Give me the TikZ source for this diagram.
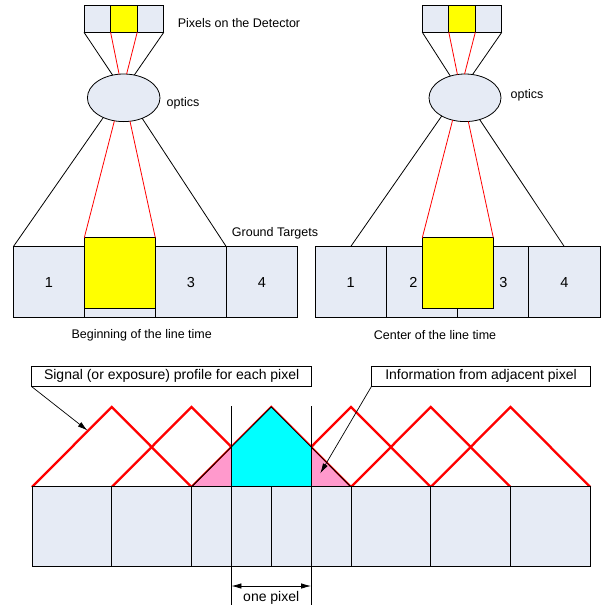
\documentclass[tikz,border=0pt]{standalone}
\usepackage{fontspec}
\setmainfont{Liberation Sans}
\usetikzlibrary{arrows.meta,shapes.geometric}
\definecolor{boxfill}{RGB}{230,235,245}
\definecolor{pinkf}{RGB}{255,153,204}
\definecolor{cyanf}{RGB}{0,255,255}
\definecolor{yelf}{RGB}{255,255,0}
\definecolor{redl}{RGB}{255,0,0}
\tikzset{
  base/.style={inner sep=0pt, outer sep=0pt},
  detcell/.style={base, draw=black, line width=0.8pt, fill=boxfill, anchor=north west, minimum width=26.6pt, minimum height=26.6pt},
  lens/.style={base, ellipse, draw=black, line width=0.8pt, fill=boxfill},
  gbox/.style={base, draw=black, line width=0.8pt, fill=boxfill, anchor=north west, minimum height=71pt, font=\fontsize{14.5}{16}\selectfont},
  ybox/.style={base, draw=black, line width=0.8pt, fill=yelf, anchor=north west, minimum width=71pt, minimum height=71pt},
  pbox/.style={base, draw=black, line width=0.8pt, fill=boxfill, anchor=north west, minimum height=79.3pt},
  lbl/.style={base, font=\fontsize{12.5}{15}\selectfont},
  numlbl/.style={base, font=\fontsize{14.5}{16}\selectfont},
  blbl/.style={base, font=\fontsize{14}{16}\selectfont},
  callout/.style={base, draw=black, line width=0.8pt, fill=white, font=\fontsize{14}{16}\selectfont, minimum height=20.7pt},
  thinl/.style={black, line width=0.8pt},
  redthin/.style={redl, line width=0.8pt},
  redthick/.style={redl, line width=2.3pt},
  pointer/.style={black, line width=0.7pt, -{Latex[length=10pt,width=5.5pt]}},
  dimarrow/.style={black, line width=0.8pt, {Latex[length=10pt,width=5.5pt]}-{Latex[length=10pt,width=5.5pt]}}
}
\begin{document}
\begin{tikzpicture}[x=1pt,y=-1pt]
\useasboundingbox (0,0) rectangle (601,605);

% ---------- left panel ----------
\node[detcell] (dl1) at (84,5.7) {};
\node[detcell, fill=yelf] (dl2) at (110.6,5.7) {};
\node[detcell] (dl3) at (137.2,5.7) {};
\node[lens, minimum width=72.6pt, minimum height=47.6pt] (el) at (123.7,97.8) {};
\draw[thinl] (dl1.south west) -- (el.116.8);
\draw[thinl] (dl3.south east) -- (el.65);
\draw[redthin] (dl2.south west) -- (el.101);
\draw[redthin] (dl2.south east) -- (el.83);

\node[gbox, minimum width=71pt] (gl1) at (13.3,246.7) {1};
\node[gbox, minimum width=71pt] (gl2) at (84.3,246.7) {};
\node[gbox, minimum width=71pt] (gl3) at (155.3,246.7) {3};
\node[gbox, minimum width=71pt] (gl4) at (226.3,246.7) {4};
\node[ybox] (yl) at (84.3,237.7) {};
\draw[thinl] (el.224) -- (gl1.north west);
\draw[thinl] (el.312) -- (gl3.north east);
\draw[redthin] (el.248.7) -- (yl.north west);
\draw[redthin] (el.285) -- (yl.north east);

\node[lbl] (tdet) at (239,23) {Pixels on the Detector};
\node[lbl] (opl) at (183,103) {optics};
\node[lbl] (gt) at (275,233) {Ground Targets};
\node[lbl] (capl) at (141.7,335) {Beginning of the line time};

% ---------- right panel ----------
\node[detcell, minimum width=26.5pt] (dr1) at (422.3,5.7) {};
\node[detcell, minimum width=26.5pt, fill=yelf] (dr2) at (448.8,5.7) {};
\node[detcell, minimum width=26.5pt] (dr3) at (475.3,5.7) {};
\node[lens, minimum width=72pt, minimum height=47.6pt] (er) at (465,97.8) {};
\draw[thinl] (dr1.south west) -- (er.124.6);
\draw[thinl] (dr3.south east) -- (er.72.6);
\draw[redthin] (dr2.south west) -- (er.108.3);
\draw[redthin] (dr2.south east) -- (er.91.7);

\node[gbox, minimum width=71.25pt] (gr1) at (315,246.7) {1};
\node[gbox, minimum width=71.25pt] (gr2) at (386.25,246.7) {};
\node[gbox, minimum width=71.25pt] (gr3) at (457.5,246.7) {};
\node[gbox, minimum width=71.25pt] (gr4) at (528.75,246.7) {4};
\node[numlbl] (nr2) at (413.3,282.2) {2};
\node[numlbl] (nr3) at (503.3,282.2) {3};
\node[ybox] (yr) at (422.3,237.7) {};
\draw[thinl] (er.218) -- (gr1.north);
\draw[thinl] (er.304.7) -- (gr4.north);
\draw[redthin] (er.241) -- (yr.north west);
\draw[redthin] (er.278) -- (yr.north east);

\node[lbl] (opr) at (527,95) {optics};
\node[lbl] (capr) at (435,335) {Center of the line time};

% ---------- bottom panel ----------
\node[callout, minimum width=279.7pt] (sig) at (171.65,376.35) {Signal (or exposure) profile for each pixel};
\node[callout, minimum width=219.4pt] (inf) at (481,376.35) {Information from adjacent pixel};

% signal profiles
\draw[redthick] (32,487) -- (111.75,407) -- (191.5,487);
\draw[redthick] (111.75,487) -- (191.5,407) -- (271.25,487);
\draw[redthick] (191.5,487) -- (271.25,407) -- (351,487);
\draw[redthick] (271.25,487) -- (351,407) -- (430.75,487);
\draw[redthick] (351,487) -- (430.75,407) -- (510.5,487);
\draw[redthick] (430.75,487) -- (510.5,407) -- (590.25,487);
\fill[cyanf] (231.4,487) -- (231.4,447.1) -- (271.25,407) -- (311.1,446.85) -- (311.1,487) -- cycle;
\fill[pinkf] (192.6,487) -- (231.4,448.2) -- (231.4,487) -- cycle;
\fill[pinkf] (311.1,447.95) -- (349.9,487) -- (311.1,487) -- cycle;
\draw[thinl] (191.5,487) -- (271.25,407) -- (351,487);

% pixel boxes
\node[pbox, minimum width=79.75pt] (b1) at (32,486.7) {};
\node[pbox, minimum width=79.75pt] (b2) at (111.75,486.7) {};
\node[pbox, minimum width=39.9pt] (b3) at (191.5,486.7) {};
\node[pbox, minimum width=39.85pt] (b4) at (231.4,486.7) {};
\node[pbox, minimum width=39.85pt] (b5) at (271.25,486.7) {};
\node[pbox, minimum width=39.9pt] (b6) at (311.1,486.7) {};
\node[pbox, minimum width=79.75pt] (b7) at (351,486.7) {};
\node[pbox, minimum width=79.75pt] (b8) at (430.75,486.7) {};
\node[pbox, minimum width=79.75pt] (b9) at (510.5,486.7) {};

% one-pixel markers
\coordinate (v1t) at (231.4,406);
\coordinate (v1b) at (231.4,605);
\coordinate (v2t) at (311.1,406);
\coordinate (v2b) at (311.1,605);
\draw[thinl] (v1t) -- (v1b);
\draw[thinl] (v2t) -- (v2b);
\coordinate (da) at (231.4,586);
\coordinate (db) at (311.1,586);
\draw[dimarrow] (da) -- (db);
\node[blbl] (onep) at (271.25,598) {one pixel};

% pointers
\coordinate (sigtip) at (87.5,430.5);
\coordinate (inftip) at (320.3,473.3);
\draw[pointer] (sig.south west) -- (sigtip);
\draw[pointer] (inf.south west) -- (inftip);
\end{tikzpicture}
\end{document}
